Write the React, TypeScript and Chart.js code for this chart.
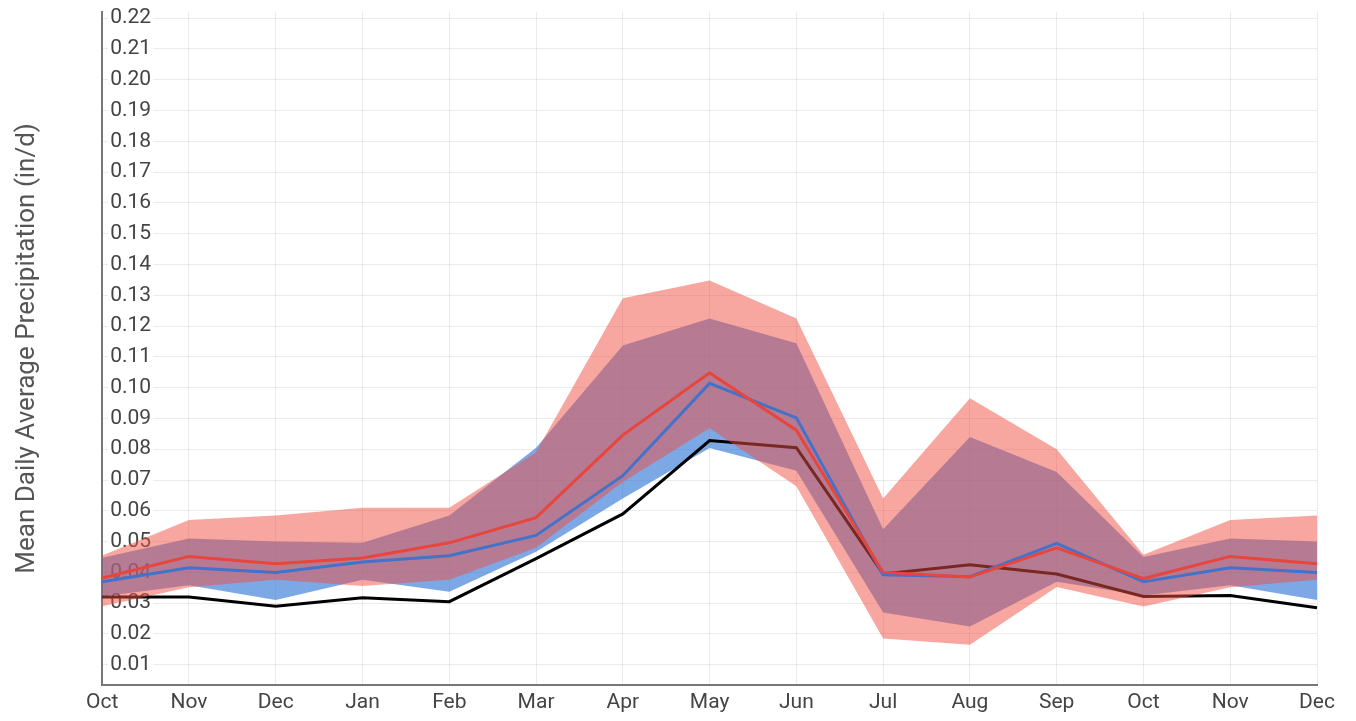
import React, { useEffect, useRef } from "react";
import { Chart, registerables } from "chart.js";

Chart.register(...registerables);

const months = ["Oct", "Nov", "Dec", "Jan", "Feb", "Mar", "Apr", "May", "Jun", "Jul", "Aug", "Sep", "Oct", "Nov", "Dec"];

const observed = [0.032, 0.032, 0.029, 0.0318, 0.0305, 0.0445, 0.059, 0.0828, 0.0805, 0.0395, 0.0425, 0.0395, 0.0322, 0.0325, 0.0285];
const blueMean = [0.037, 0.0415, 0.04, 0.0434, 0.0454, 0.052, 0.0714, 0.1014, 0.0902, 0.0392, 0.0386, 0.0494, 0.037, 0.0415, 0.04];
const redMean = [0.0382, 0.0452, 0.0428, 0.0447, 0.0496, 0.0578, 0.0846, 0.1048, 0.0862, 0.04, 0.0385, 0.048, 0.038, 0.0452, 0.0428];
const blueUpper = [0.0448, 0.051, 0.05, 0.0496, 0.0585, 0.0805, 0.1137, 0.1225, 0.1144, 0.054, 0.084, 0.0726, 0.045, 0.051, 0.05];
const blueLower = [0.0322, 0.0358, 0.031, 0.0376, 0.0337, 0.0467, 0.064, 0.0804, 0.073, 0.027, 0.0224, 0.037, 0.0325, 0.0358, 0.031];
const redUpper = [0.0455, 0.057, 0.0585, 0.061, 0.061, 0.079, 0.129, 0.1348, 0.1225, 0.064, 0.0966, 0.08, 0.0457, 0.057, 0.0585];
const redLower = [0.029, 0.0352, 0.0376, 0.0356, 0.0376, 0.048, 0.0694, 0.0868, 0.068, 0.0185, 0.0165, 0.0353, 0.0289, 0.0352, 0.0376];

const yMin = 0.0035;
const yMax = 0.222;
const yStep = 0.01;

export default function App() {
  const canvasRef = useRef<HTMLCanvasElement | null>(null);

  useEffect(() => {
    const canvas = canvasRef.current;
    if (!canvas) return;
    const base = { pointRadius: 0, pointHoverRadius: 0, tension: 0 };
    const chart = new Chart(canvas, {
      type: "line",
      data: {
        labels: months,
        datasets: [
          { ...base, label: "blueUpper", data: blueUpper, borderWidth: 0, borderColor: "rgba(0,0,0,0)", backgroundColor: "rgba(45,115,215,0.62)", fill: "+1", order: 10 },
          { ...base, label: "blueLower", data: blueLower, borderWidth: 0, borderColor: "rgba(0,0,0,0)", fill: false, order: 10 },
          { ...base, label: "observed", data: observed, borderWidth: 3, borderColor: "#000000", fill: false, order: 9 },
          { ...base, label: "redUpper", data: redUpper, borderWidth: 0, borderColor: "rgba(0,0,0,0)", backgroundColor: "rgba(240,80,65,0.5)", fill: "+1", order: 8 },
          { ...base, label: "redLower", data: redLower, borderWidth: 0, borderColor: "rgba(0,0,0,0)", fill: false, order: 8 },
          { ...base, label: "blueMean", data: blueMean, borderWidth: 3, borderColor: "#4272c9", fill: false, order: 2 },
          { ...base, label: "redMean", data: redMean, borderWidth: 3, borderColor: "#e8453c", fill: false, order: 1 },
        ],
      },
      options: {
        animation: false,
        responsive: true,
        maintainAspectRatio: false,
        layout: { padding: { left: 6, top: 12, right: 39, bottom: 1 } },
        plugins: { legend: { display: false }, tooltip: { enabled: false } },
        scales: {
          x: {
            offset: false,
            grid: { color: "rgba(0,0,0,0.08)", drawTicks: false },
            border: { color: "#777777", width: 2 },
            ticks: { color: "#444444", padding: 5, font: { family: "Roboto", size: 21 }, maxRotation: 0, autoSkip: false },
          },
          y: {
            min: yMin,
            max: yMax,
            afterFit: (scale: any) => {
              scale.paddingTop = 0;
              scale.paddingBottom = 0;
            },
            grid: { color: "rgba(0,0,0,0.08)", drawTicks: false },
            border: { color: "#777777", width: 2 },
            ticks: {
              stepSize: yStep,
              includeBounds: false,
              mirror: true,
              padding: 8,
              color: "#444444",
              font: { family: "Roboto", size: 21 },
              showLabelBackdrop: true,
              backdropColor: "#ffffff",
              backdropPadding: 2,
              callback: (v: any) => Number(v).toFixed(2),
            },
            title: {
              display: true,
              text: "Mean Daily Average Precipitation (in/d)",
              color: "#555555",
              font: { family: "Roboto", size: 26 },
              padding: { top: 6, bottom: 43 },
            },
          },
        },
      },
    });
    return () => chart.destroy();
  }, []);

  return (
    <div style={{ position: "fixed", left: 0, top: 0, width: 1356, height: 721, background: "#ffffff" }}>
      <canvas ref={canvasRef} />
    </div>
  );
}
